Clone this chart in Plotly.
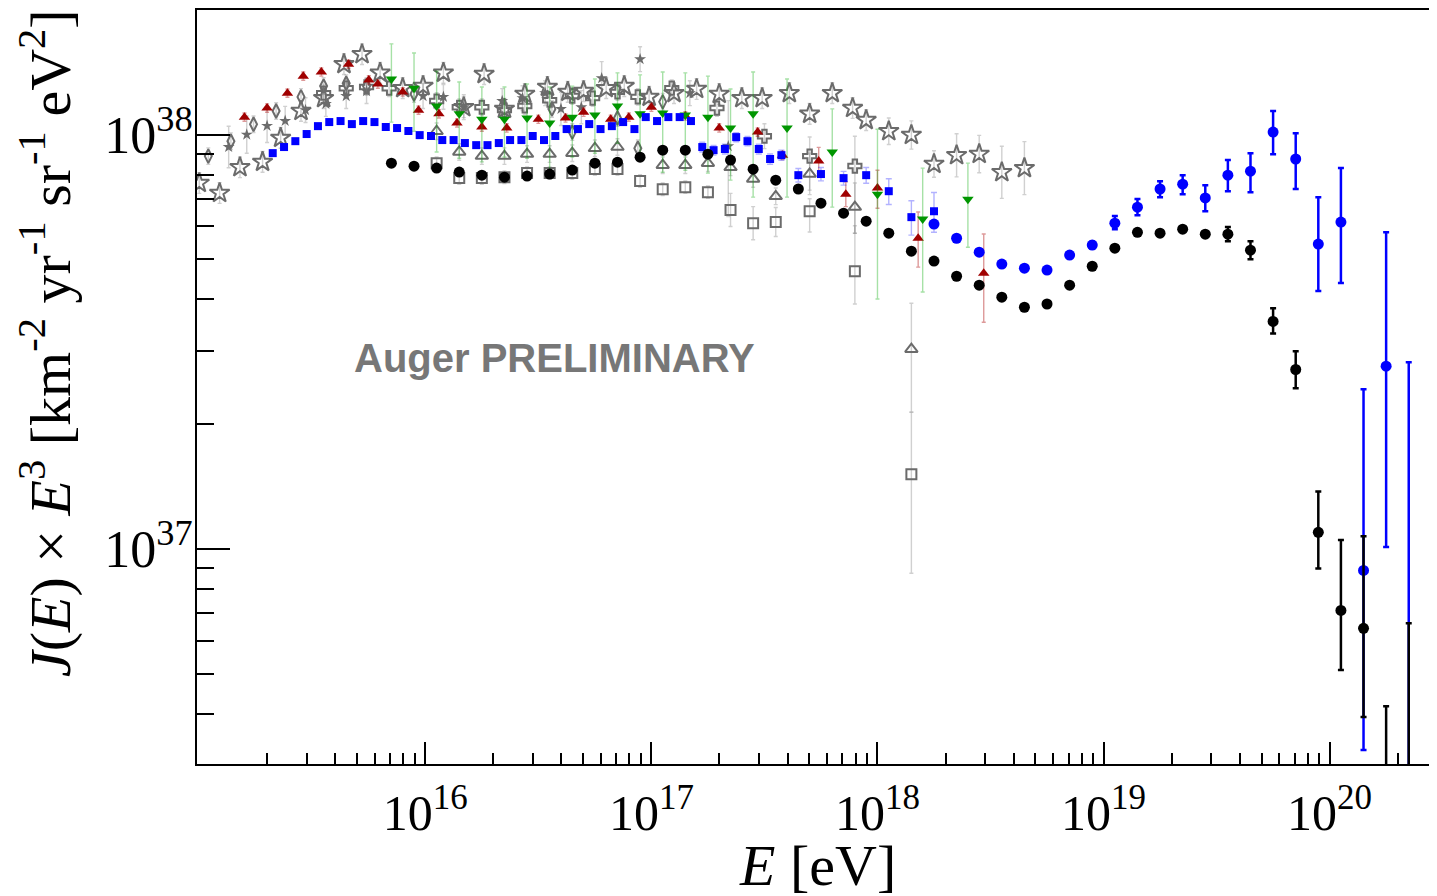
import plotly.graph_objects as go

# ---------------- DATA (E in eV as log10, J*E^3 in units of 1e38 or log10) ----------------
# Black circles (combined spectrum), J*E^3 / 1e38
black_lgE = [15.85, 15.95, 16.05, 16.15, 16.25, 16.35, 16.45, 16.55, 16.65, 16.75,
             16.85, 16.95, 17.05, 17.15, 17.25, 17.35, 17.45, 17.55, 17.65, 17.75,
             17.85, 17.95, 18.05, 18.15, 18.25, 18.35, 18.45, 18.55, 18.65, 18.75,
             18.85, 18.95, 19.05, 19.15, 19.25, 19.35, 19.45, 19.55, 19.65, 19.75,
             19.85, 19.95, 20.05, 20.15, 20.25, 20.35]
black_J = [0.853, 0.839, 0.830, 0.812, 0.798, 0.789, 0.794, 0.803, 0.821, 0.853,
           0.858, 0.882, 0.917, 0.917, 0.897, 0.868, 0.825, 0.776, 0.739, 0.683,
           0.646, 0.618, 0.578, 0.523, 0.495, 0.455, 0.433, 0.405, 0.383, 0.390,
           0.433, 0.481, 0.532, 0.581, 0.578, 0.591, 0.575, 0.575, 0.526, 0.354,
           0.271, 0.1096, 0.0710, 0.0643, 0.020, 0.020]
black_up = [0] * 33 + [0.005, 0.005, 0.006, 0.008, 0.023, 0.027, 0.027,
                       0.029, 0.028, 0.034, 0.043, 0.0217, 0.0461]
black_dn = [0] * 33 + [0.005, 0.005, 0.006, 0.008, 0.022, 0.026, 0.023,
                       0.027, 0.020, 0.020, 0.025, 0.0, 0.0]

# Blue circles, J*E^3 / 1e38
blue_lgE = [18.25, 18.35, 18.45, 18.55, 18.65, 18.75, 18.85, 18.95, 19.05, 19.15,
            19.25, 19.35, 19.45, 19.55, 19.65, 19.75, 19.85, 19.95, 20.05, 20.15,
            20.25, 20.35]
blue_J = [0.608, 0.562, 0.520, 0.487, 0.476, 0.471, 0.512, 0.541, 0.611, 0.668,
          0.739, 0.759, 0.703, 0.798, 0.816, 1.014, 0.873, 0.544, 0.615, 0.0887,
          0.276, 0.020]
blue_up = [0, 0, 0, 0, 0, 0, 0.008, 0.010, 0.025, 0.031, 0.033, 0.039, 0.052,
           0.070, 0.086, 0.126, 0.135, 0.162, 0.215, 0.154, 0.305, 0.262]
blue_dn = [0, 0, 0, 0, 0, 0, 0.008, 0.010, 0.020, 0.029, 0.033, 0.041, 0.050,
           0.068, 0.090, 0.117, 0.134, 0.125, 0.177, 0.056, 0.175, 0.010]

# Blue squares, J*E^3 / 1e38
bsq_lgE = [15.325, 15.375, 15.425, 15.475, 15.525, 15.575, 15.625, 15.675, 15.725, 15.775,
           15.825, 15.875, 15.925, 15.975, 16.025, 16.075, 16.125, 16.175, 16.225, 16.275,
           16.325, 16.375, 16.425, 16.475, 16.525, 16.575, 16.625, 16.675, 16.725, 16.775,
           16.825, 16.875, 16.925, 16.975, 17.025, 17.075, 17.125, 17.175, 17.225, 17.275,
           17.325, 17.375, 17.425, 17.475, 17.525, 17.575,
           17.65, 17.75, 17.85, 17.95, 18.05, 18.15, 18.25]
bsq_J = [0.902, 0.933, 0.964, 1.003, 1.048, 1.072, 1.078, 1.060, 1.078, 1.072,
         1.043, 1.037, 1.020, 0.997, 0.992, 0.970, 0.970, 0.954, 0.943, 0.943,
         0.954, 0.970, 0.970, 0.992, 0.970, 0.992, 1.031, 1.031, 1.060, 1.031,
         1.048, 1.072, 1.031, 1.102, 1.078, 1.102, 1.102, 1.078, 0.933, 0.917,
         0.923, 0.986, 0.964, 0.923, 0.873, 0.892,
         0.798, 0.803, 0.785, 0.798, 0.730, 0.632, 0.653]
bsq_err = [0.005] * 26 + [0.015] * 12 + [0.025] * 8 + [0.030, 0.030, 0.030, 0.035, 0.052, 0.060, 0.072]

# Gray open stars (log10 values, errors in dex)
s1_lgE = [15.00, 15.09, 15.18, 15.28, 15.36, 15.45, 15.55, 15.64, 15.72, 15.80,
          15.90, 15.99, 16.08, 16.17, 16.26, 16.35, 16.44, 16.54, 16.63, 16.70,
          16.80, 16.88, 16.99, 17.10, 17.20, 17.30, 17.40, 17.49, 17.61, 17.70,
          17.80, 17.89, 17.95, 18.05, 18.15, 18.25, 18.35, 18.45, 18.55, 18.65]
s1_lgJ = [37.883, 37.859, 37.921, 37.934, 37.992, 38.057, 38.088, 38.170, 38.194, 38.149,
          38.112, 38.117, 38.149, 38.066, 38.146, 38.062, 38.098, 38.115, 38.103, 38.105,
          38.112, 38.117, 38.091, 38.100, 38.110, 38.098, 38.088, 38.088, 38.100, 38.050,
          38.100, 38.064, 38.035, 38.008, 37.999, 37.929, 37.950, 37.953, 37.909, 37.919]
s1_err = [0.025] * 33 + [0.032, 0.034, 0.032, 0.052, 0.045, 0.063, 0.064]

# Gray small filled stars
s2_lgE = [15.13, 15.21, 15.30, 15.38, 15.47, 15.56, 15.65, 15.74, 15.99, 16.08,
          16.17, 16.34, 16.43, 16.53, 16.60, 16.69, 16.78, 16.95, 17.17, 17.34]
s2_lgJ = [37.970, 38.000, 38.021, 38.033, 38.059, 38.074, 38.093, 38.105, 38.093, 38.091,
          38.066, 38.081, 38.088, 38.100, 38.062, 38.066, 38.136, 38.182, 38.100, 37.972]
s2_up = [0.05, 0.045, 0.04, 0.035, 0.03, 0.03, 0.03, 0.03, 0.03, 0.03,
         0.03, 0.03, 0.03, 0.03, 0.04, 0.04, 0.04, 0.03, 0.03, 0.11]
s2_dn = [0.05, 0.045, 0.04, 0.035, 0.03, 0.03, 0.03, 0.03, 0.03, 0.03,
         0.03, 0.03, 0.03, 0.03, 0.04, 0.04, 0.04, 0.03, 0.03, 0.17]

# Gray open diamonds
s3_lgE = [15.04, 15.14, 15.24, 15.34, 15.45, 15.55, 15.65, 15.74, 15.95, 16.56,
          16.65, 16.85, 16.94, 17.05]
s3_lgJ = [37.948, 37.984, 38.025, 38.057, 38.091, 38.117, 38.124, 38.117, 38.098, 38.062,
          38.006, 38.040, 37.967, 38.079]
s3_err = [0.02] * 14

# Gray open crosses
s4_lgE = [15.55, 15.65, 15.74, 15.84, 16.05, 16.15, 16.25, 16.35, 16.44, 16.55,
          16.65, 16.74, 16.85, 16.94, 17.09, 17.29, 17.50, 17.70, 17.90]
s4_lgJ = [38.100, 38.112, 38.115, 38.112, 38.081, 38.066, 38.066, 38.059, 38.069, 38.083,
          38.093, 38.088, 38.103, 38.091, 38.112, 38.064, 37.996, 37.948, 37.924]
s4_up = [0.02] * 16 + [0.03, 0.046, 0.072]
s4_dn = [0.02] * 16 + [0.03, 0.082, 0.162]

# Gray open triangles
s5_lgE = [16.05, 16.15, 16.25, 16.35, 16.45, 16.55, 16.65, 16.75, 16.85, 17.05,
          17.15, 17.25, 17.35, 17.45, 17.55, 17.70, 17.90, 18.15]
s5_lgJ = [38.008, 37.958, 37.948, 37.948, 37.953, 37.953, 37.955, 37.967, 37.970, 37.926,
          37.926, 37.931, 37.921, 37.893, 37.851, 37.905, 37.825, 37.482]
s5_up = [0.02] * 15 + [0.05, 0.058, 0.111]
s5_dn = [0.02] * 15 + [0.05, 0.063, 0.152]

# Gray open squares
s6_lgE = [16.05, 16.15, 16.25, 16.35, 16.45, 16.55, 16.65, 16.75, 16.85, 16.95,
          17.05, 17.15, 17.25, 17.35, 17.45, 17.55, 17.70, 17.90, 18.15]
s6_lgJ = [37.931, 37.895, 37.895, 37.897, 37.907, 37.907, 37.907, 37.917, 37.917, 37.888,
          37.868, 37.873, 37.861, 37.818, 37.786, 37.789, 37.815, 37.670, 37.180]
s6_up = [0.015] * 13 + [0.04, 0.04, 0.035, 0.03, 0.11, 0.150]
s6_dn = [0.015] * 13 + [0.04, 0.04, 0.035, 0.05, 0.079, 0.239]

# Red filled triangles
s7_lgE = [15.20, 15.30, 15.39, 15.46, 15.54, 15.66, 15.75, 15.79, 15.90, 15.97,
          16.06, 16.14, 16.25, 16.36, 16.50, 16.62, 16.70, 16.82, 16.90, 17.00,
          17.15, 17.30, 17.47, 17.58, 17.74, 17.86, 18.00, 18.18, 18.47]
s7_lgJ = [38.042, 38.064, 38.100, 38.141, 38.151, 38.170, 38.132, 38.122, 38.103, 38.059,
          38.050, 38.028, 38.018, 38.016, 38.037, 38.040, 38.054, 38.037, 38.042, 38.066,
          38.045, 38.016, 38.006, 37.950, 37.936, 37.856, 37.871, 37.750, 37.665]
s7_up = [0.01] * 24 + [0.033, 0.03, 0.043, 0.063, 0.095]
s7_dn = [0.01] * 24 + [0.03, 0.03, 0.049, 0.070, 0.118]

# Green filled down-triangles (value, upper and lower bound, all log10)
s8_lgE = [15.85, 15.95, 16.05, 16.15, 16.25, 16.35, 16.45, 16.55, 16.65, 16.75,
          16.85, 16.95, 17.05, 17.15, 17.25, 17.35, 17.45, 17.60, 17.80, 18.00,
          18.20, 18.40]
s8_lgJ = [38.134, 38.112, 38.069, 38.050, 38.037, 38.037, 38.040, 38.028, 38.042, 38.047,
          38.069, 38.050, 38.052, 38.047, 38.042, 38.016, 38.050, 38.016, 37.958, 37.856,
          37.796, 37.844]
s8_hi = [38.219, 38.197, 38.153, 38.127, 38.115, 38.115, 38.122, 38.115, 38.117, 38.134,
         38.149, 38.144, 38.151, 38.149, 38.141, 38.110, 38.151, 38.134, 38.062, 38.013,
         37.919, 37.931]
s8_lo = [38.030, 38.008, 37.958, 37.943, 37.934, 37.946, 37.943, 37.895, 37.946, 37.955,
         37.979, 37.955, 37.909, 37.914, 37.907, 37.890, 37.849, 37.849, 37.825, 37.603,
         37.620, 37.728]

x_tick_exp = [16, 17, 18, 19, 20]
y_tick_exp = [37, 38]

# ---------------- FIGURE ----------------
GRAY = "#6b6b6b"
fig = go.Figure()


def add_log_series(lgE, lgJ, up, dn, symbol, size, color, ecolor, lw=0, ewidth=2):
    xs = [10.0 ** v for v in lgE]
    ys = [10.0 ** v for v in lgJ]
    ep = [10.0 ** (v + u) - 10.0 ** v for v, u in zip(lgJ, up)]
    em = [10.0 ** v - 10.0 ** (v - d) for v, d in zip(lgJ, dn)]
    fig.add_trace(go.Scatter(
        x=xs, y=ys, mode="markers",
        marker=dict(symbol=symbol, size=size, color=color,
                    line=dict(width=lw, color=color)),
        error_y=dict(type="data", symmetric=False, array=ep, arrayminus=em,
                     color=ecolor, thickness=1.4, width=ewidth),
        showlegend=False, hoverinfo="skip"))


gray_err = "rgba(120,120,120,0.35)"
add_log_series(s1_lgE, s1_lgJ, s1_err, s1_err, "star-open", 15, GRAY, gray_err, lw=2)
add_log_series(s2_lgE, s2_lgJ, s2_up, s2_dn, "star", 9, GRAY, gray_err)
add_log_series(s3_lgE, s3_lgJ, s3_err, s3_err, "diamond-tall-open", 10, GRAY, gray_err, lw=2)
add_log_series(s4_lgE, s4_lgJ, s4_up, s4_dn, "cross-open", 11, GRAY, gray_err, lw=2)
add_log_series(s5_lgE, s5_lgJ, s5_up, s5_dn, "triangle-up-open", 11, GRAY, gray_err, lw=2)
add_log_series(s6_lgE, s6_lgJ, s6_up, s6_dn, "square-open", 10, GRAY, gray_err, lw=2)
add_log_series(s7_lgE, s7_lgJ, s7_up, s7_dn, "triangle-up", 10, "#a00000", "rgba(170,0,0,0.4)")
s8_up = [h - v for h, v in zip(s8_hi, s8_lgJ)]
s8_dn = [v - l for v, l in zip(s8_lgJ, s8_lo)]
add_log_series(s8_lgE, s8_lgJ, s8_up, s8_dn, "triangle-down", 10, "#009600", "rgba(0,170,0,0.35)")

# blue squares
fig.add_trace(go.Scatter(
    x=[10.0 ** v for v in bsq_lgE], y=[v * 1e38 for v in bsq_J], mode="markers",
    marker=dict(symbol="square", size=8, color="#0000ff"),
    error_y=dict(type="data", array=[v * 1e38 for v in bsq_err],
                 color="rgba(0,0,255,0.3)", thickness=1.4, width=3),
    showlegend=False, hoverinfo="skip"))

# blue circles
fig.add_trace(go.Scatter(
    x=[10.0 ** v for v in blue_lgE], y=[v * 1e38 for v in blue_J], mode="markers",
    marker=dict(symbol="circle", size=11, color="#0000ff"),
    error_y=dict(type="data", symmetric=False,
                 array=[v * 1e38 for v in blue_up], arrayminus=[v * 1e38 for v in blue_dn],
                 color="#0000ff", thickness=2.5, width=3),
    showlegend=False, hoverinfo="skip"))

# black circles
fig.add_trace(go.Scatter(
    x=[10.0 ** v for v in black_lgE], y=[v * 1e38 for v in black_J], mode="markers",
    marker=dict(symbol="circle", size=11, color="#000000"),
    error_y=dict(type="data", symmetric=False,
                 array=[v * 1e38 for v in black_up], arrayminus=[v * 1e38 for v in black_dn],
                 color="#000000", thickness=2.5, width=3),
    showlegend=False, hoverinfo="skip"))

serif = "Liberation Serif, Times New Roman, serif"
x_minor = [m * 10.0 ** e for e in range(14, 21) for m in range(2, 10)]
y_minor = [m * 10.0 ** e for e in range(36, 39) for m in range(2, 10)]

# the page body adds an 8 px offset, so the figure is 8 px smaller and shifted
fig.update_layout(
    width=1429, height=888,
    margin=dict(l=189, r=0, t=2, b=132, autoexpand=False),
    paper_bgcolor="white", plot_bgcolor="white",
    xaxis=dict(type="log", range=[14.99, 20.475], automargin=False,
               showline=True, linecolor="black", linewidth=2, mirror=True,
               showgrid=False, zeroline=False,
               ticks="inside", ticklen=22, tickwidth=2, tickcolor="black",
               tickmode="array", tickvals=[10.0 ** e for e in x_tick_exp],
               ticktext=["10<sup>%d</sup>" % e for e in x_tick_exp],
               tickfont=dict(family=serif, size=50, color="black"),
               ticklabelstandoff=4,
               minor=dict(ticks="inside", ticklen=11, tickwidth=2, tickcolor="black",
                          tickmode="array", tickvals=x_minor, showgrid=False)),
    yaxis=dict(type="log", range=[36.4807, 38.3007], automargin=False,
               showline=True, linecolor="black", linewidth=2, mirror=False,
               showgrid=False, zeroline=False,
               ticks="inside", ticklen=33, tickwidth=2, tickcolor="black",
               tickmode="array", tickvals=[10.0 ** e for e in y_tick_exp],
               ticktext=["10<sup>%d</sup>" % e for e in y_tick_exp],
               tickfont=dict(family=serif, size=52, color="black"),
               ticklabelstandoff=-8,
               minor=dict(ticks="inside", ticklen=17, tickwidth=2, tickcolor="black",
                          tickmode="array", tickvals=y_minor, showgrid=False)),
    annotations=[
        dict(text="<b>Auger PRELIMINARY</b>", xref="paper", yref="paper",
             x=0.125, y=0.5385, xanchor="left", yanchor="middle", showarrow=False,
             font=dict(family="Liberation Sans, Arial, sans-serif", size=40, color="#777777")),
        dict(text="<i>J</i>(<i>E</i>) × <i>E</i><sup>3</sup> [km<sup>-2</sup> yr<sup>-1</sup> sr<sup>-1</sup> eV<sup>2</sup>]",
             xref="paper", yref="paper", x=-0.122, y=0.558, xanchor="center", yanchor="middle",
             textangle=-90, showarrow=False,
             font=dict(family=serif, size=58, color="black")),
        dict(text="<i>E</i> [eV]", xref="paper", yref="paper", x=0.5008, y=-0.134,
             xanchor="center", yanchor="middle", showarrow=False,
             font=dict(family=serif, size=58, color="black")),
    ],
)

fig.write_html("out.html")
